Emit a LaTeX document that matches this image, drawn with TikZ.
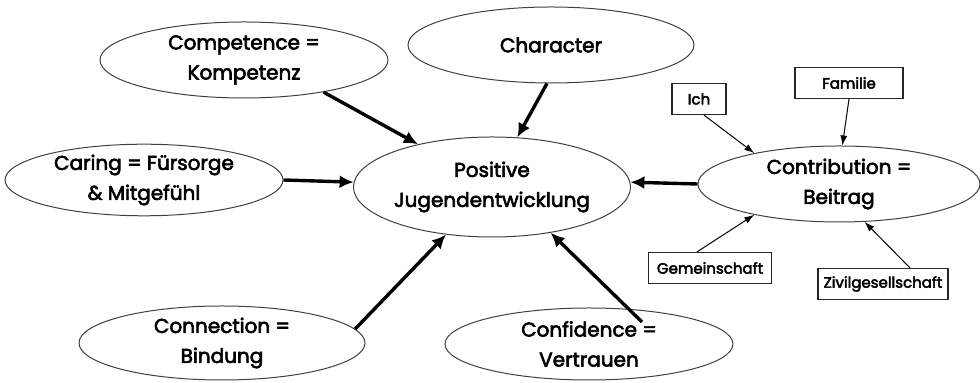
\documentclass[tikz,border=0pt]{standalone}
\usepackage{fontspec}
\setmainfont{Poppins}[FakeBold=3]
\usetikzlibrary{shapes.geometric, arrows.meta, calc}

\begin{document}
\begin{tikzpicture}[ x = 0.5pt, y = -0.5pt
                     , font = \fontsize{10}{15}\selectfont
                     , bubble/.style = { ellipse
                                       , draw = black!75
                                       , line width = 0.5pt
                                       , inner sep = 0pt
                                       , align = center }
                     , tag/.style = { rectangle
                                    , draw = black!85
                                    , line width = 0.6pt
                                    , inner sep = 0pt
                                    , minimum height = 15.5pt
                                    , font = \fontsize{7.5}{9}\selectfont }
                     , feed/.style = { line width = 1.7pt
                                     , -{Latex[width=6.5pt, length=7pt]} }
                     , hint/.style = { line width = 0.5pt
                                     , -{Latex[width=3.5pt, length=5pt]} }
                     ]
  \useasboundingbox (0,0) rectangle (980,383);

  \node (pos) [bubble, minimum width = 135pt, minimum height = 50pt]
    at (492,187) {Positive\\ Jugendentwicklung};
  \node (comp) [bubble, minimum width = 144pt, minimum height = 38pt]
    at (244,60) {Competence =\\ Kompetenz};
  \node (char) [bubble, minimum width = 143pt, minimum height = 38pt]
    at (551,45) {Character};
  \node (caring) [bubble, minimum width = 139pt, minimum height = 35pt]
    at (144,180) {Caring = Fürsorge\\ \& Mitgefühl};
  \node (conn) [bubble, minimum width = 143pt, minimum height = 37pt]
    at (222,343) {Connection =\\ Bindung};
  \node (conf) [bubble, minimum width = 144pt, minimum height = 36pt]
    at (589,344) {Confidence =\\ Vertrauen};
  \node (contr) [bubble, minimum width = 141pt, minimum height = 38pt]
    at (839,184) {Contribution =\\ Beitrag};

  % the four fields of contribution
  \node (ich) [tag, minimum width = 27pt] at (699,99) {Ich};
  \node (fam) [tag, minimum width = 54pt] at (849,83) {Familie};
  \node (gem) [tag, minimum width = 61.5pt] at (710,268) {Gemeinschaft};
  \node (ziv) [tag, minimum width = 65pt] at (883,284) {Zivilgesellschaft};

  \draw[feed] (comp.-22) -- (pos.150);
  \draw[feed] (char.-96) -- (pos.63);
  \draw[feed] (caring.east) -- (pos.178);
  \draw[feed] (contr.west) -- (pos.2);
  \draw[feed] (conn.6) -- (pos.-134);
  \draw[feed] ($(conf.center)+(53,-22)$) -- (pos.-38);

  \draw[hint] ($(ich.south)+(5,0)$) -- (contr.160);
  \draw[hint] (fam.south) -- (contr.85);
  \draw[hint] ($(gem.north)+(-13,0)$) -- (contr.-160);
  \draw[hint] ($(ziv.north)+(27,0)$) -- (contr.-56);

\end{tikzpicture}
\end{document}
